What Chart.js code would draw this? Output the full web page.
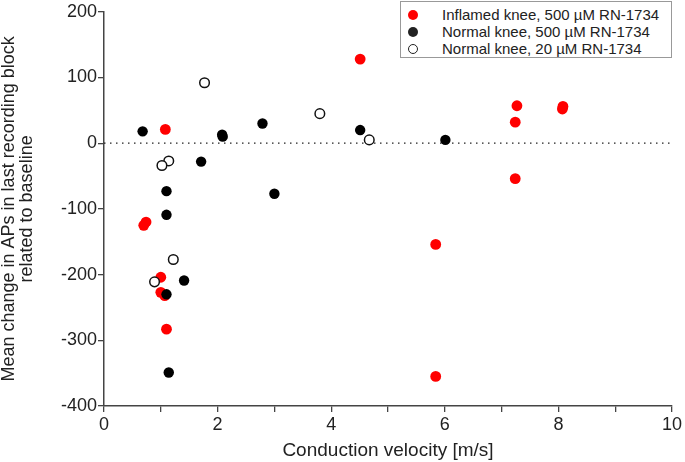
<!DOCTYPE html>
<html>
<head>
<meta charset="utf-8">
<script src="https://cdn.jsdelivr.net/npm/chart.js@4/dist/chart.umd.min.js"></script>
<style>
    html, body { margin: 0; padding: 0; background: #fff; }
    #wrap { position: relative; width: 685px; height: 462px; }
    #legend {
        position: absolute; left: 400px; top: 1px; width: 272px; height: 57px;
        border: 1px solid #999; background: #fff; box-sizing: border-box;
        font-family: 'Liberation Sans', Arial, sans-serif; font-size: 15px; color: #222;
    }
    .row { position: absolute; left: 0; height: 16px; line-height: 16px; white-space: nowrap; }
    .dot { position: absolute; left: 7px; top: 3px; width: 10px; height: 10px; border-radius: 50%; box-sizing: border-box; }
    .lbl { position: absolute; left: 41px; top: 0; }
</style>
</head>
<body>
<div id="wrap">
    <canvas id="scatterChart" width="685" height="462"></canvas>
    <div id="legend">
        <div class="row" style="top:5px"><span class="dot" style="background:#ff0000"></span><span class="lbl">Inflamed knee, 500 µM RN-1734</span></div>
        <div class="row" style="top:22px"><span class="dot" style="background:#222"></span><span class="lbl">Normal knee, 500 µM RN-1734</span></div>
        <div class="row" style="top:39px"><span class="dot" style="background:#fff;border:1.5px solid #222"></span><span class="lbl">Normal knee, 20 µM RN-1734</span></div>
    </div>
</div>
<script>
// conduction velocity [m/s] and mean change in APs
const inflamed500X = [1.08, 0.70, 0.74, 1.00, 1.00, 1.07, 1.10, 4.51, 7.27, 7.24, 8.07, 8.08, 7.24, 5.84, 5.84];
const inflamed500Y = [21, -125, -120, -204, -227, -232, -283, 128, 57, 32, 52, 56, -54, -154, -355];

const normal500X = [0.68, 2.08, 2.09, 2.79, 1.71, 1.10, 3.00, 1.10, 1.41, 1.10, 1.14, 4.51, 6.01];
const normal500Y = [18, 13, 10, 30, -28, -73, -77, -109, -209, -230, -349, 20, 5];

const normal20X = [1.77, 3.80, 1.14, 1.02, 1.22, 0.89, 4.67];
const normal20Y = [92, 45, -27, -34, -177, -211, 5];

const baselineX = [0, 10];
const baselineY = [0, 0];

const FONT = "'Liberation Sans', Arial, sans-serif";
const AXIS_COLOR = '#444';

function toPoints(xs, ys) {
    return xs.map((x, i) => ({ x: x, y: ys[i] }));
}

const ctx = document.getElementById('scatterChart').getContext('2d');

new Chart(ctx, {
    type: 'scatter',
    data: {
        datasets: [{
            label: 'Normal knee, 20 µM RN-1734',
            data: toPoints(normal20X, normal20Y),
            backgroundColor: '#fff',
            borderColor: '#111',
            borderWidth: 1.5,
            pointRadius: 4.8,
            order: 0
        }, {
            label: 'Normal knee, 500 µM RN-1734',
            data: toPoints(normal500X, normal500Y),
            backgroundColor: '#000',
            borderColor: '#000',
            borderWidth: 0,
            pointRadius: 5.2,
            order: 1
        }, {
            label: 'Inflamed knee, 500 µM RN-1734',
            data: toPoints(inflamed500X, inflamed500Y),
            backgroundColor: '#ff0000',
            borderColor: '#ff0000',
            borderWidth: 0,
            pointRadius: 5.4,
            order: 2
        }, {
            label: 'baseline',
            type: 'line',
            data: toPoints(baselineX, baselineY),
            borderColor: '#222',
            borderWidth: 1.3,
            borderDash: [1.5, 4.5],
            pointRadius: 0,
            order: 3
        }]
    },
    options: {
        responsive: false,
        animation: false,
        layout: {
            padding: { top: 8, right: 13, left: 0, bottom: 0 }
        },
        plugins: {
            legend: { display: false },
            tooltip: { enabled: false }
        },
        scales: {
            x: {
                type: 'linear',
                min: 0,
                max: 10,
                afterFit: function(scale) { scale.height = 56; },
                ticks: {
                    stepSize: 1,
                    autoSkip: false,
                    maxRotation: 0,
                    padding: 2,
                    color: '#222',
                    font: { family: FONT, size: 18 },
                    callback: function(value) {
                        return value % 2 === 0 ? value : '';
                    }
                },
                grid: {
                    drawOnChartArea: false,
                    drawTicks: true,
                    tickLength: 6,
                    color: AXIS_COLOR,
                    lineWidth: 1.3
                },
                border: { color: AXIS_COLOR, width: 1.5 },
                title: {
                    display: true,
                    text: 'Conduction velocity [m/s]',
                    color: '#222',
                    font: { family: FONT, size: 19 },
                    padding: { top: 0, bottom: 0 }
                }
            },
            y: {
                min: -400,
                max: 200,
                afterFit: function(scale) { scale.width = 104; },
                ticks: {
                    stepSize: 100,
                    padding: 1,
                    color: '#222',
                    font: { family: FONT, size: 18 }
                },
                grid: {
                    drawOnChartArea: false,
                    drawTicks: true,
                    tickLength: 6,
                    color: AXIS_COLOR,
                    lineWidth: 1.3
                },
                border: { color: AXIS_COLOR, width: 1.5 },
                title: {
                    display: true,
                    text: ['Mean change in APs in last recording block', 'related to baseline'],
                    color: '#222',
                    font: { family: FONT, size: 18, lineHeight: 1.0 },
                    padding: { top: 0, bottom: 0 }
                }
            }
        }
    }
});
</script>
</body>
</html>
